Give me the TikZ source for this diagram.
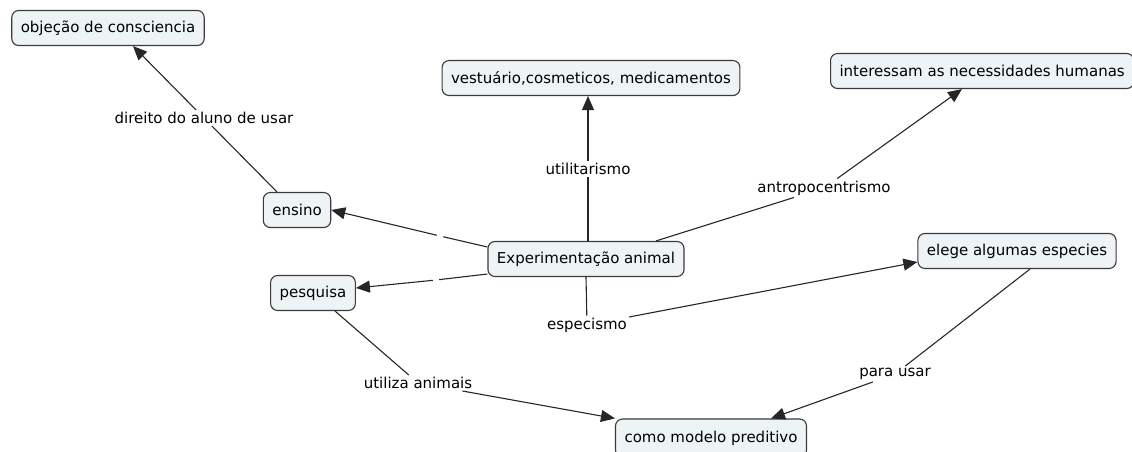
\documentclass[tikz,border=0pt]{standalone}
\usepackage{fontspec}
\setmainfont{DejaVu Sans}
\usetikzlibrary{arrows.meta}
\definecolor{boxfill}{HTML}{EEF3F5}
\definecolor{boxline}{HTML}{3A3A3A}
\begin{document}
\begin{tikzpicture}[x=1pt,y=-1pt,
  concept/.style={draw=boxline, fill=boxfill, rounded corners=7pt, line width=1.1pt,
    inner xsep=9pt, minimum height=35pt, font=\fontsize{15}{17}\selectfont},
  link/.style={font=\fontsize{15}{17}\selectfont, inner sep=2pt},
  conn/.style={line width=1.1pt, draw=black!85},
  arr/.style={conn, -{Triangle[length=14pt,width=12pt]}}]
\useasboundingbox (0,0) rectangle (1132,451);
% concepts
\node[concept] (obj) at (108,28) {objeção de consciencia};
\node[concept] (vest) at (591,78) {vestuário,cosmeticos, medicamentos};
\node[concept, anchor=west] (int) at (830,71) {interessam as necessidades humanas};
\node[concept] (ens) at (297,210) {ensino};
\node[concept] (exp) at (586,259) {Experimentação animal};
\node[concept] (pes) at (313,293) {pesquisa};
\node[concept] (ele) at (1017,251) {elege algumas especies};
\node[concept, minimum height=38pt] (mod) at (711,438) {como modelo preditivo};
% linking phrases
\node[link] (l1) at (204,118) {direito do aluno de usar};
\node[link] (l2) at (588,169) {utilitarismo};
\node[link] (l3) at (824,188) {antropocentrismo};
\node[link] (l4) at (587,325) {especismo};
\node[link] (l5) at (418,383) {utiliza animais};
\node[link] (l6) at (895,374) {para usar};
\node[inner sep=3pt] (g1) at (440,236) {};
\node[inner sep=3pt] (g2) at (436,280) {};
% connectors
\draw[conn] ([xshift=-20pt]ens.north) -- (l1);
\draw[arr] (l1) -- ([xshift=25pt]obj.south);
\draw[conn] ([xshift=2pt]exp.north) -- (l2);
\draw[arr] (l2) -- ([xshift=-3pt]vest.south);
\draw[conn] ([xshift=70pt]exp.north) -- (l3);
\draw[arr] (l3) -- ([xshift=132pt]int.south west);
\draw[conn] ([yshift=12pt]exp.west) -- (g1);
\draw[arr] (g1) -- (ens.east);
\draw[conn] ([yshift=-15pt]exp.west) -- (g2);
\draw[arr] (g2) -- ([yshift=5pt]pes.east);
\draw[conn] (exp.south) -- (l4);
\draw[arr] (l4) -- ([yshift=-11pt]ele.west);
\draw[conn] ([xshift=22pt]pes.south) -- (l5);
\draw[arr] (l5) -- (mod.north west);
\draw[conn] ([xshift=13pt]ele.south) -- (l6);
\draw[arr] (l6) -- ([xshift=60pt]mod.north);
\end{tikzpicture}
\end{document}
